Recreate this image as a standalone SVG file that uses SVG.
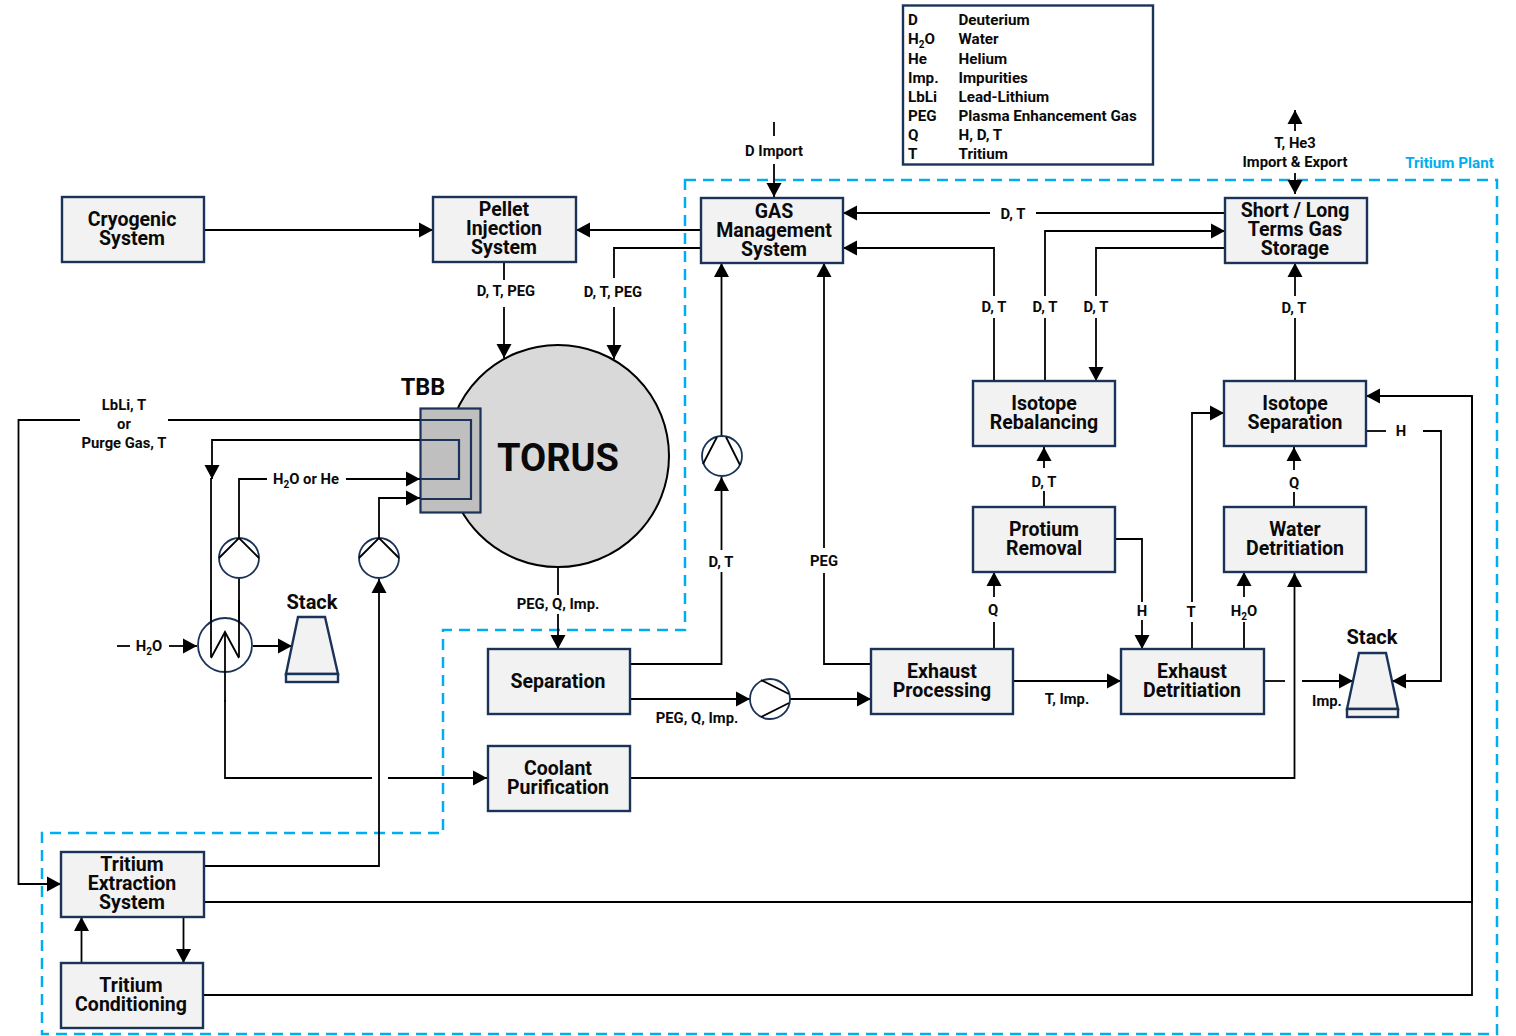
<svg xmlns="http://www.w3.org/2000/svg" width="1516" height="1036" viewBox="0 0 1516 1036">
<style>
text{font-family:"Roboto","Liberation Sans",sans-serif;font-weight:700;fill:#0a0a0a;text-anchor:middle}
.box{fill:#f2f2f2;stroke:#1b3358;stroke-width:2.4}
.n{font-size:19.500px}
.l{font-size:14.800px}
.lg{font-size:15.200px;text-anchor:start}
.c{fill:none;stroke:#000;stroke-width:1.800}
.a{fill:none;stroke:#000;stroke-width:1.800;marker-end:url(#ah)}
.p{fill:#fff;stroke:#1b3358;stroke-width:1.800}
.k{fill:none;stroke:#000;stroke-width:1.800}
</style>
<defs>
<marker id="ah" markerUnits="userSpaceOnUse" markerWidth="15" markerHeight="16" refX="14" refY="8" orient="auto"><path d="M0,0.500L14,8L0,15.500z" fill="#000"/></marker>
</defs>
<g id="tritium-plant">
<path d="M685,180H1497V1034H42V833H443V630H685z" fill="none" stroke="#00aeef" stroke-width="2.500" stroke-dasharray="11 7"/>
<text x="1449.500" y="168" style="font-size:15.200px;fill:#00aeef">Tritium Plant</text>
</g>
<g id="torus">
<circle cx="558" cy="456" r="111" fill="#d9d9d9" stroke="#000" stroke-width="2"/>
<text x="558" y="471" style="font-size:38px">TORUS</text>
</g>
<g id="tbb">
<rect x="420.500" y="408.500" width="60" height="104" fill="#bfbfbf" stroke="#1b3358" stroke-width="2.200"/>
<text x="423" y="395" style="font-size:23.500px">TBB</text>
<path d="M420,420H471V499H420M420,440H459V479H420" fill="none" stroke="#1b3358" stroke-width="2.200"/>
</g>
<g id="connectors">
<path class="a" d="M205,230H433"/>
<path class="a" d="M700,230H576"/>
<path class="c" d="M504,263V280"/><path class="a" d="M504,307V358"/>
<path class="c" d="M700,248H614V278"/><path class="a" d="M614,307V359"/>
<path class="c" d="M774,122V136"/><path class="a" d="M774,164V197"/>
<path class="c" d="M1225,213H1036"/><path class="a" d="M990,213H843"/>
<path class="a" d="M1295,131V110"/>
<path class="a" d="M1295,173V194"/>
<path class="a" d="M1045,296V231H1225"/><path class="c" d="M1045,381V318"/>
<path class="c" d="M1225,248H1096V296"/><path class="a" d="M1096,318V381"/>
<path class="c" d="M994,381V318"/><path class="a" d="M994,296V248H843"/>
<path class="c" d="M1295,381V318"/><path class="a" d="M1295,296V263"/>
<path class="c" d="M1044,507V491"/><path class="a" d="M1044,468V447"/>
<path class="c" d="M1294,507V492"/><path class="a" d="M1294,470V447"/>
<path class="c" d="M994,622V650"/><path class="a" d="M994,597V572"/>
<path class="c" d="M1116,539H1142V602"/><path class="a" d="M1142,620V649"/>
<path class="c" d="M1192,649V622"/><path class="a" d="M1192,602V413H1224"/>
<path class="c" d="M1244,649V622"/><path class="a" d="M1244,597V572"/>
<path class="a" d="M1014,681H1121"/>
<path class="c" d="M1264,681H1285"/><path class="a" d="M1302,681H1353"/>
<path class="c" d="M1367,431H1386"/><path class="a" d="M1423,431H1441V681H1392"/>
<path class="a" d="M630,778H1294.500V573"/>
<path class="c" d="M630,664H721.500V572"/><path class="a" d="M721.500,550V477"/>
<path class="a" d="M721.500,436V263"/>
<path class="c" d="M871,664H824V573"/><path class="a" d="M824,548V263"/>
<path class="c" d="M558,567V595"/><path class="a" d="M558,614V649"/>
<path class="a" d="M630,699H750"/>
<path class="a" d="M790,699H871"/>
<path class="c" d="M225,700V778H372"/><path class="a" d="M388,778H487"/>
<path class="c" d="M420,420H168"/><path class="a" d="M80,420H18.500V884H61"/>
<path class="a" d="M420,440H212V479"/>
<path class="c" d="M211,478V645"/><path class="c" d="M239,578V645"/>
<path class="c" d="M239,538V479H267"/><path class="a" d="M346,479H420"/>
<path class="a" d="M379,538V498H420"/>
<path class="a" d="M204,866H379V579"/>
<path class="c" d="M117,646H130"/><path class="a" d="M169,646H197"/>
<path class="a" d="M253,646H292"/>
<path class="a" d="M204,902H1472V396H1366"/>
<path class="c" d="M204,995H1472V396"/>
<path class="a" d="M81.500,963V917" stroke-width="2.200"/>
<path class="a" d="M183.500,917V963" stroke-width="2.200"/>
</g>
<g id="legend">
<rect x="903" y="5.500" width="250" height="159" fill="#fff" stroke="#1b3358" stroke-width="2.400"/>
<text class="lg" x="908" y="25">D</text><text class="lg" x="958.500" y="25">Deuterium</text>
<text class="lg" x="908" y="44">H<tspan dy="4" font-size="10">2</tspan><tspan dy="-4">O</tspan></text><text class="lg" x="958.500" y="44">Water</text>
<text class="lg" x="908" y="64">He</text><text class="lg" x="958.500" y="64">Helium</text>
<text class="lg" x="908" y="83">Imp.</text><text class="lg" x="958.500" y="83">Impurities</text>
<text class="lg" x="908" y="102">LbLi</text><text class="lg" x="958.500" y="102">Lead-Lithium</text>
<text class="lg" x="908" y="121">PEG</text><text class="lg" x="958.500" y="121">Plasma Enhancement Gas</text>
<text class="lg" x="908" y="140">Q</text><text class="lg" x="958.500" y="140">H, D, T</text>
<text class="lg" x="908" y="159">T</text><text class="lg" x="958.500" y="159">Tritium</text>
</g>
<g id="cryogenic"><rect class="box" x="62" y="197" width="142" height="65"/><text class="n" y="226"><tspan x="132">Cryogenic</tspan><tspan x="132" dy="19">System</tspan></text></g>
<g id="pellet"><rect class="box" x="433" y="197" width="143" height="65"/><text class="n" y="216"><tspan x="504">Pellet</tspan><tspan x="504" dy="19">Injection</tspan><tspan x="504" dy="19">System</tspan></text></g>
<g id="gas"><rect class="box" x="701" y="198" width="142" height="65"/><text class="n" y="218"><tspan x="774">GAS</tspan><tspan x="774" dy="19">Management</tspan><tspan x="774" dy="19">System</tspan></text></g>
<g id="storage"><rect class="box" x="1225" y="198" width="142" height="65"/><text class="n" y="217"><tspan x="1295">Short / Long</tspan><tspan x="1295" dy="19">Terms Gas</tspan><tspan x="1295" dy="19">Storage</tspan></text></g>
<g id="rebalancing"><rect class="box" x="973" y="381" width="142" height="65"/><text class="n" y="410"><tspan x="1044">Isotope</tspan><tspan x="1044" dy="19">Rebalancing</tspan></text></g>
<g id="isotope-sep"><rect class="box" x="1224" y="381" width="142" height="65"/><text class="n" y="410"><tspan x="1295">Isotope</tspan><tspan x="1295" dy="19">Separation</tspan></text></g>
<g id="protium"><rect class="box" x="973" y="507" width="142" height="65"/><text class="n" y="536"><tspan x="1044">Protium</tspan><tspan x="1044" dy="19">Removal</tspan></text></g>
<g id="water-det"><rect class="box" x="1224" y="507" width="142" height="65"/><text class="n" y="536"><tspan x="1295">Water</tspan><tspan x="1295" dy="19">Detritiation</tspan></text></g>
<g id="separation"><rect class="box" x="488" y="649" width="142" height="65"/><text class="n" x="558" y="688">Separation</text></g>
<g id="exhaust-proc"><rect class="box" x="871" y="649" width="142" height="65"/><text class="n" y="678"><tspan x="942">Exhaust</tspan><tspan x="942" dy="19">Processing</tspan></text></g>
<g id="exhaust-det"><rect class="box" x="1121" y="649" width="143" height="65"/><text class="n" y="678"><tspan x="1192">Exhaust</tspan><tspan x="1192" dy="19">Detritiation</tspan></text></g>
<g id="coolant"><rect class="box" x="488" y="746" width="142" height="65"/><text class="n" y="775"><tspan x="558">Coolant</tspan><tspan x="558" dy="19">Purification</tspan></text></g>
<g id="extraction"><rect class="box" x="61" y="852" width="143" height="65"/><text class="n" y="871"><tspan x="132">Tritium</tspan><tspan x="132" dy="19">Extraction</tspan><tspan x="132" dy="19">System</tspan></text></g>
<g id="conditioning"><rect class="box" x="61" y="963" width="142" height="65"/><text class="n" y="992"><tspan x="131">Tritium</tspan><tspan x="131" dy="19">Conditioning</tspan></text></g>
<g id="pump-1"><circle class="p" cx="239" cy="558" r="20"/><path class="k" d="M219,558L239,538L259,558"/></g>
<g id="pump-2"><circle class="p" cx="379" cy="558" r="20"/><path class="k" d="M359,558L379,538L399,558"/></g>
<g id="pump-3"><circle class="p" cx="722" cy="456" r="20"/><path class="k" d="M703,464L717,437M726,437L740,465"/></g>
<g id="pump-4"><circle class="p" cx="770" cy="699" r="20"/><path class="k" d="M761,680L789,694M789,703L761,717"/></g>
<g id="heat-exchanger"><circle class="p" cx="225" cy="645" r="27"/><path class="k" d="M211,658L225,632L239,658"/><path class="k" d="M225,632V702"/><path class="c" d="M211,600V657M239,600V657"/></g>
<g id="stack-1"><path class="box" d="M298,617H325L338,674H286z"/><rect class="box" x="286" y="674" width="52" height="8"/><text x="312" y="609" style="font-size:20px">Stack</text></g>
<g id="stack-2"><path class="box" d="M1359,653H1386L1398,709H1347z"/><rect class="box" x="1347" y="709" width="51" height="8"/><text x="1372" y="644" style="font-size:20px">Stack</text></g>
<g id="labels">
<text class="l" x="506" y="296">D, T, PEG</text>
<text class="l" x="613" y="297">D, T, PEG</text>
<text class="l" x="774" y="156">D Import</text>
<text class="l" x="1013" y="219">D, T</text>
<text class="l" x="994" y="312">D, T</text>
<text class="l" x="1045" y="312">D, T</text>
<text class="l" x="1096" y="312">D, T</text>
<text class="l" x="1294" y="313">D, T</text>
<text class="l" y="148"><tspan x="1295">T, He3</tspan><tspan x="1295" dy="19">Import &amp; Export</tspan></text>
<text class="l" x="1044" y="487">D, T</text>
<text class="l" x="1294" y="488">Q</text>
<text class="l" x="993" y="615">Q</text>
<text class="l" x="1142" y="616">H</text>
<text class="l" x="1191" y="617">T</text>
<text class="l" x="1244" y="616">H<tspan dy="4" font-size="10">2</tspan><tspan dy="-4">O</tspan></text>
<text class="l" x="1401" y="436">H</text>
<text class="l" x="1067" y="704">T, Imp.</text>
<text class="l" x="1327" y="706">Imp.</text>
<text class="l" x="721" y="567">D, T</text>
<text class="l" x="824" y="566">PEG</text>
<text class="l" x="558" y="609">PEG, Q, Imp.</text>
<text class="l" x="697" y="723">PEG, Q, Imp.</text>
<text class="l" y="410"><tspan x="124">LbLi, T</tspan><tspan x="124" dy="19">or</tspan><tspan x="124" dy="19">Purge Gas, T</tspan></text>
<text class="l" x="306" y="484">H<tspan dy="4" font-size="10">2</tspan><tspan dy="-4">O or He</tspan></text>
<text class="l" x="149" y="651">H<tspan dy="4" font-size="10">2</tspan><tspan dy="-4">O</tspan></text>
</g>
</svg>
